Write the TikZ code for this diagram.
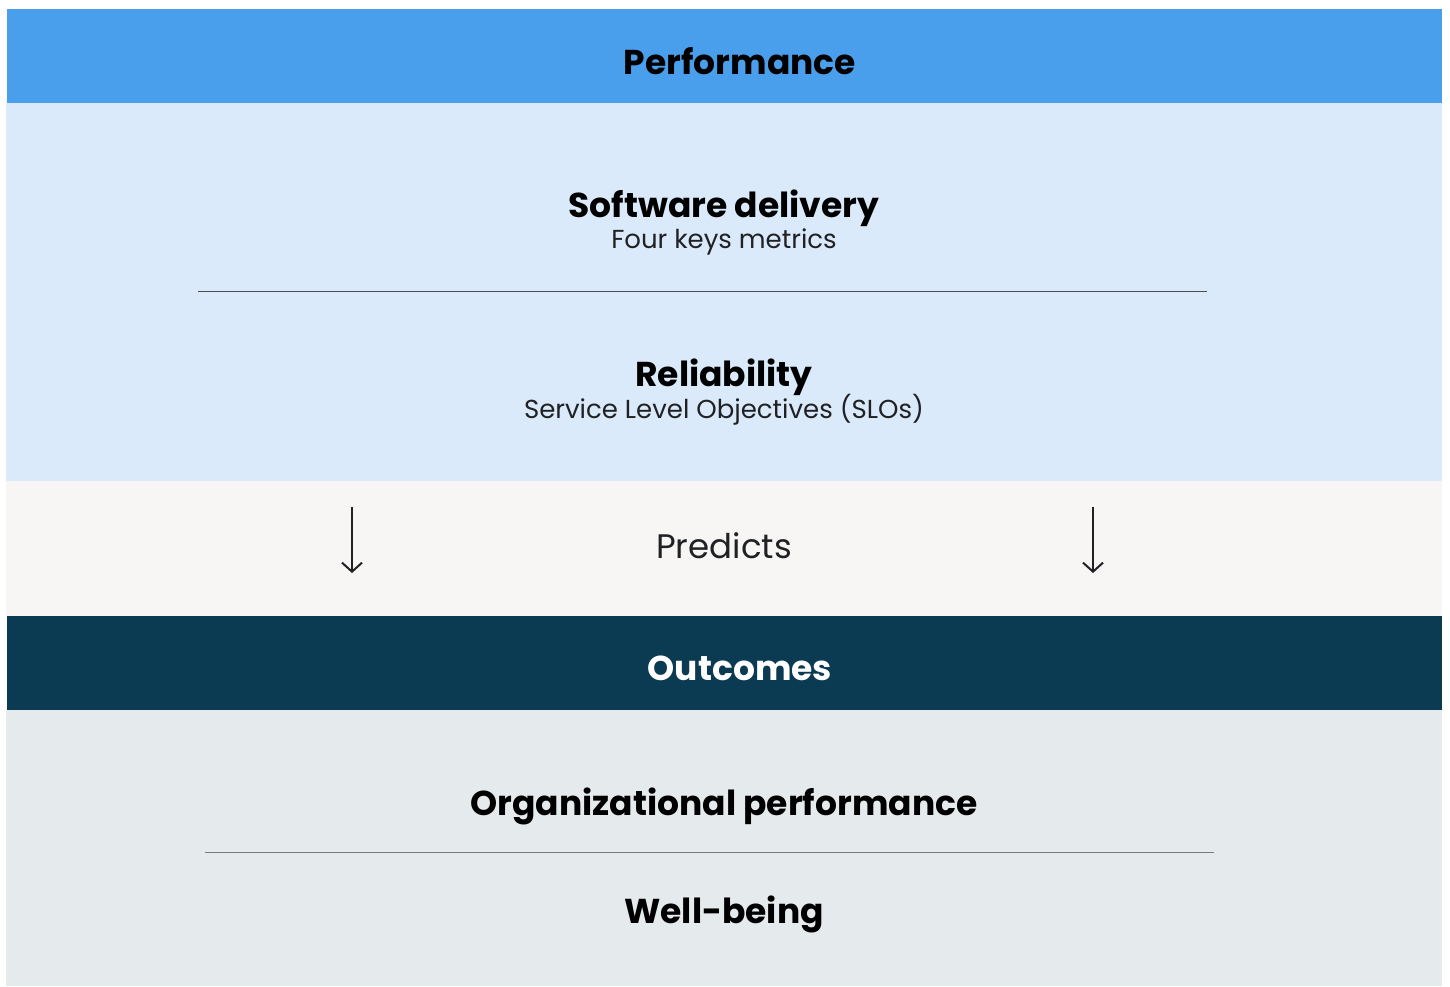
\documentclass[tikz,border=0pt]{standalone}
\usepackage{fontspec}
\setmainfont{Poppins}
\usetikzlibrary{calc,positioning}
\usetikzlibrary{arrows.meta}
\definecolor{perfblue}{HTML}{4A9FEC}
\definecolor{lightblue}{HTML}{DAEAFA}
\definecolor{predgray}{HTML}{F7F6F4}
\definecolor{outnavy}{HTML}{0B3A53}
\definecolor{outgray}{HTML}{E5EAED}
\definecolor{inkdark}{HTML}{202124}
\tikzstyle{band}=[inner sep=0pt, outer sep=0pt, anchor=north west]
\tikzstyle{head}=[font=\fontsize{34.5}{40}\selectfont\bfseries, text=black, inner sep=0pt]
\tikzstyle{sub}=[font=\fontsize{26}{30}\selectfont, text=inkdark, inner sep=0pt]
\tikzstyle{rule}=[draw=inkdark!80, line width=0.9pt]
\begin{document}
\begin{tikzpicture}[x=1pt,y=-1pt]
\useasboundingbox [fill=white] (0,0) rectangle (1450,986);

% bands
\node (perf) [band, fill=perfblue, minimum width=1435, minimum height=94] at (7,9) {};
\node (measures) [band, fill=lightblue, minimum width=1436, minimum height=378] at (6,103) {};
\node (predicts) [band, fill=predgray, minimum width=1436, minimum height=135] at (6,481) {};
\node (outcomes) [band, fill=outnavy, minimum width=1435, minimum height=94] at (7,616) {};
\node (results) [band, fill=outgray, minimum width=1436, minimum height=276] at (6,710) {};

% titles
\node (perftitle) [head] at (740,61) {Performance};
\node (outtitle) [head, text=white] at (740,668) {Outcomes};

% performance measures
\node (delivery) [head] at (724,208) {Software delivery};
\node (fourkeys) [sub] at (724,242) {Four keys metrics};
\node (reliab) [head] at (724,377) {Reliability};
\node (slos) [sub] at (724,410) {Service Level Objectives (SLOs)};
\coordinate (rule1a) at (198,291);
\coordinate (rule1b) at (1207,291);
\draw [rule] (rule1a) -- (rule1b);

% predicts
\node (predlabel) [sub, font=\fontsize{34}{38}\selectfont] at (724,546) {Predicts};
\coordinate (arrLa) at (352,507);
\coordinate (arrLb) at (352,573);
\coordinate (arrRa) at (1093,507);
\coordinate (arrRb) at (1093,573);
\draw [-{Straight Barb[length=9pt,width=20pt]}, line width=2pt, draw=inkdark] (arrLa) -- (arrLb);
\draw [-{Straight Barb[length=9pt,width=20pt]}, line width=2pt, draw=inkdark] (arrRa) -- (arrRb);

% outcomes
\node (orgperf) [head] at (724,806) {Organizational performance};
\node (wellbeing) [head] at (724,914) {Well-being};
\coordinate (rule2a) at (205,852);
\coordinate (rule2b) at (1214,852);
\draw [rule, draw=inkdark!60] (rule2a) -- (rule2b);

\end{tikzpicture}
\end{document}
